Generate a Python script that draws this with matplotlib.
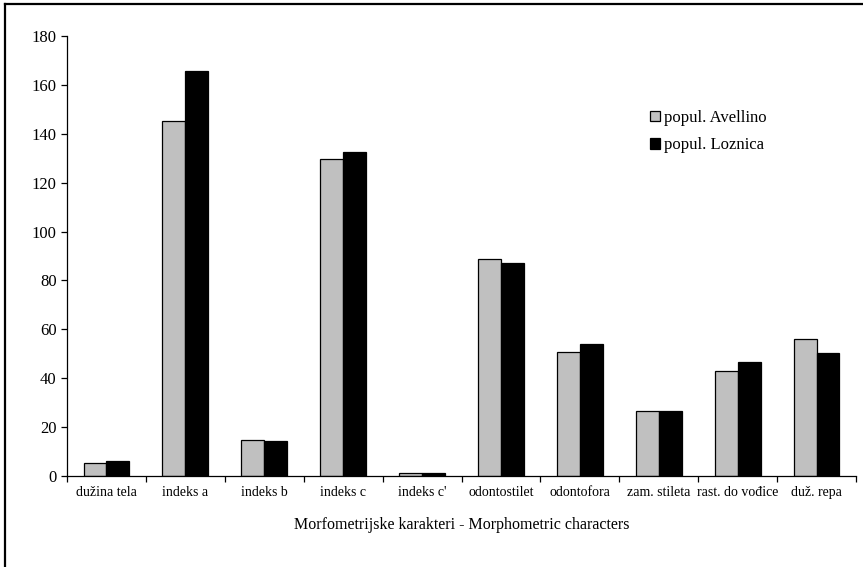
import numpy as np
import matplotlib.pyplot as plt
from matplotlib.lines import Line2D

categories = ["dužina tela", "indeks a", "indeks b", "indeks c", "indeks c'",
              "odontostilet", "odontofora", "zam. stileta", "rast. do vođice", "duž. repa"]
avellino = [5.5, 145.1, 14.6, 129.5, 1.1, 88.8, 50.6, 26.7, 42.8, 56.2]
loznica = [6.0, 165.5, 14.2, 132.5, 1.1, 87.0, 54.1, 26.7, 46.8, 50.3]
series_names = ["popul. Avellino", "popul. Loznica"]
y_ticks = list(range(0, 181, 20))

plt.rcParams['font.family'] = ['Liberation Serif', 'DejaVu Serif']

fig = plt.figure(figsize=(8.63, 5.67), dpi=100)
ax = fig.add_axes([67 / 863, 1 - 476 / 567, (856 - 67) / 863, (476 - 36) / 567])

x = np.arange(len(categories))
w = 0.29
ax.bar(x - w / 2, avellino, w, color="#c0c0c0", edgecolor="black", linewidth=0.9,
       label=series_names[0])
ax.bar(x + w / 2, loznica, w, color="black", edgecolor="black", linewidth=0.9,
       label=series_names[1])

ax.set_xlim(-0.5, len(categories) - 0.5)
ax.set_ylim(0, 180)
ax.set_yticks(y_ticks)
ax.tick_params(axis="y", labelsize=12, length=4.5, width=0.9, direction="out", pad=3)

# category labels in the middle, tick marks on the boundaries
ax.set_xticks(x)
ax.set_xticklabels(categories, fontsize=10)
ax.tick_params(axis="x", which="major", length=0, pad=7)
ax.set_xticks(np.arange(-0.5, len(categories), 1.0), minor=True)
ax.tick_params(axis="x", which="minor", length=4.5, width=0.9, direction="out")

ax.set_xlabel("Morfometrijske karakteri - Morphometric characters", fontsize=11.5, labelpad=13)

for side in ["top", "right"]:
    ax.spines[side].set_visible(False)
for side in ["left", "bottom"]:
    ax.spines[side].set_linewidth(0.9)

leg = ax.legend(loc="upper left", bbox_to_anchor=(650 / 863, 1 - 110 / 567),
                bbox_transform=fig.transFigure, frameon=False, fontsize=12,
                handlelength=0.6, handleheight=0.6, handletextpad=0.25,
                labelspacing=0.68, borderpad=0, borderaxespad=0)

# outer frame (only left and top edges show in the crop)
fig.add_artist(Line2D([4.5 / 863, 4.5 / 863], [0, 1 - 3.5 / 567], transform=fig.transFigure,
                      color="black", linewidth=1.6))
fig.add_artist(Line2D([4.5 / 863, 1], [1 - 3.5 / 567, 1 - 3.5 / 567], transform=fig.transFigure,
                      color="black", linewidth=1.6))

fig.savefig("out.png", dpi=100)
plt.close(fig)
